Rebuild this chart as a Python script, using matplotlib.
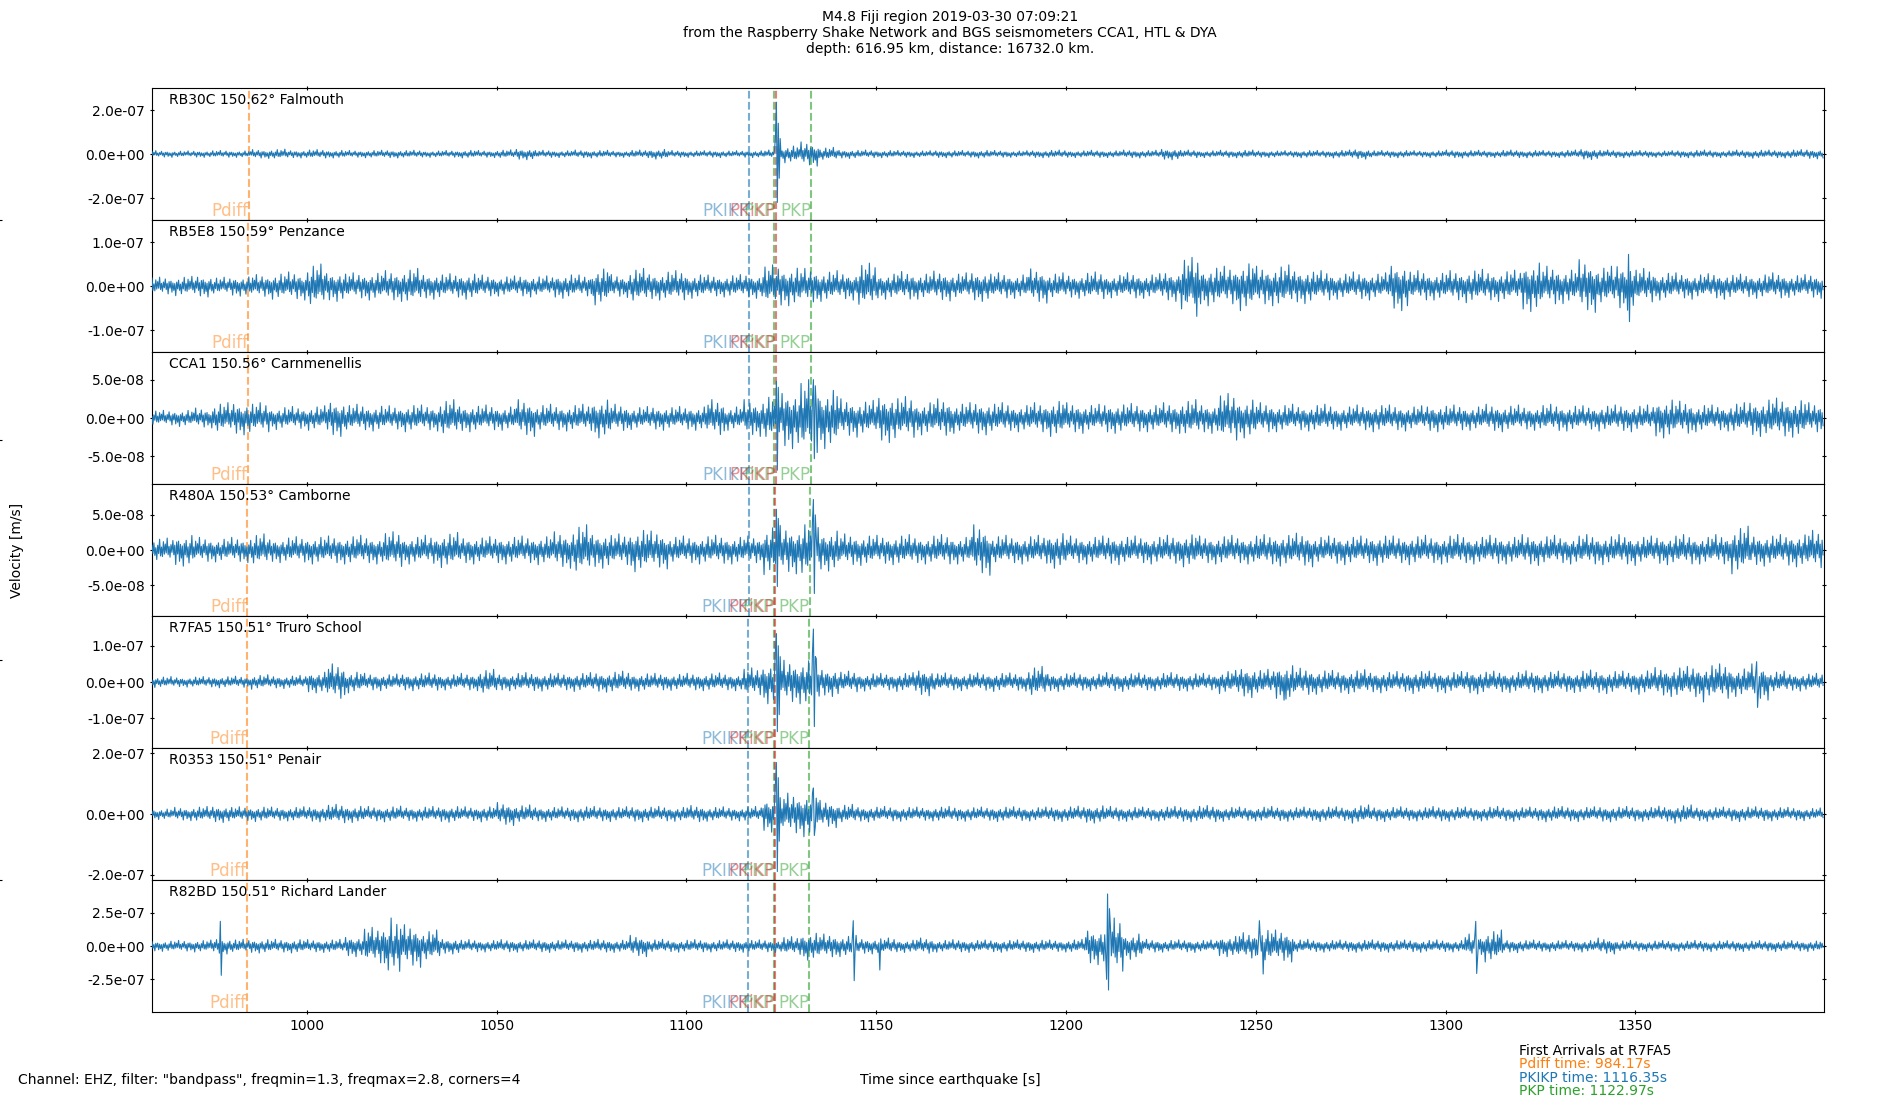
import matplotlib
matplotlib.use('Agg')

import matplotlib.pyplot as plt
import numpy as np
from matplotlib.ticker import FormatStrFormatter


# stations, top to bottom
STATIONS = ['RB30C', 'RB5E8', 'CCA1', 'R480A', 'R7FA5', 'R0353', 'R82BD']
DISTANCES = [150.62, 150.59, 150.56, 150.53, 150.51, 150.51, 150.51]
PLACES = ['Falmouth', 'Penzance', 'Carnmenellis', 'Camborne',
          'Truro School', 'Penair', 'Richard Lander']

# phase arrivals [s] for each station
PHASES = ['Pdiff', 'PKIKP', 'PKP', 'PKiKP', 'PKP']
PHASE_COLOURS = ['C1', 'C0', 'C2', 'C3', 'C2']
ARRIVALS = [
    [984.65, 1116.56, 1123.20, 1123.60, 1132.9],
    [984.52, 1116.50, 1123.15, 1123.55, 1132.8],
    [984.39, 1116.45, 1123.10, 1123.50, 1132.7],
    [984.26, 1116.39, 1123.00, 1123.40, 1132.5],
    [984.17, 1116.35, 1122.97, 1123.35, 1132.4],
    [984.17, 1116.35, 1122.97, 1123.35, 1132.4],
    [984.17, 1116.35, 1122.97, 1123.35, 1132.4],
]

# y range (+/-) and tick step per station [m/s]
YLIMS = [3.0e-7, 1.5e-7, 8.6e-8, 9.4e-8, 1.82e-7, 2.18e-7, 4.95e-7]
YSTEPS = [2e-7, 1e-7, 5e-8, 5e-8, 1e-7, 2e-7, 2.5e-7]

XLIM = (959.2, 1399.7)
XTICKS = [1000, 1050, 1100, 1150, 1200, 1250, 1300, 1350]

# peak amplitude in 5 s windows from 960 s, units of 1e-8 m/s
ENV_START = 960.0
ENV_STEP = 5.0
ENV = {
    'RB30C': [1.5, 1.4, 1.5, 1.6, 1.5, 2.0, 2.2, 1.8, 2.0, 1.8,
              1.6, 1.7, 1.8, 1.7, 1.5, 1.6, 1.8, 1.6, 1.9, 2.6,
              1.7, 1.6, 1.8, 1.7, 1.5, 1.8, 2.3, 1.6, 1.5, 1.6,
              1.5, 1.6, 1.8, 4.0, 5.5, 3.0, 2.0, 1.8, 1.7, 1.6,
              1.5, 1.7, 1.6, 1.8, 1.6, 1.5, 1.7, 1.8, 1.6, 1.7,
              1.6, 1.8, 1.7, 2.6, 1.8, 1.6, 1.7, 1.8, 1.6, 1.5,
              1.7, 1.6, 1.8, 2.3, 1.6, 1.7, 1.5, 1.6, 1.8, 1.7,
              1.6, 1.8, 1.7, 1.6, 1.8, 2.5, 1.8, 1.7, 1.6, 1.5,
              1.7, 1.8, 1.6, 1.8, 1.9, 1.8, 2.0, 2.2],
    'RB5E8': [2.0, 2.2, 2.5, 2.0, 2.3, 2.6, 3.0, 3.2, 5.0, 3.5,
              3.0, 3.2, 3.5, 4.0, 3.0, 2.8, 3.0, 2.5, 2.3, 2.5,
              2.3, 2.8, 2.5, 4.3, 2.6, 4.0, 3.2, 3.5, 2.8, 2.5,
              2.6, 2.8, 4.8, 4.5, 4.0, 3.5, 3.2, 5.2, 3.0, 3.3,
              3.0, 3.4, 3.0, 3.5, 3.0, 2.8, 3.9, 3.0, 2.8, 3.2,
              2.7, 3.0, 2.8, 3.5, 6.5, 4.5, 4.5, 5.6, 4.5, 4.8,
              4.0, 3.5, 3.0, 3.2, 3.0, 5.6, 3.5, 3.2, 3.5, 3.8,
              3.5, 3.6, 5.8, 4.5, 4.0, 6.0, 4.5, 5.5, 4.0, 3.2,
              3.0, 2.8, 3.0, 2.7, 2.8, 3.0, 2.6, 2.8],
    'CCA1': [1.0, 1.1, 1.3, 2.0, 2.2, 2.0, 1.5, 1.5, 1.6, 2.4,
             1.8, 1.7, 1.6, 1.8, 1.7, 2.4, 1.8, 1.7, 1.6, 2.4,
             1.8, 1.7, 1.8, 2.6, 1.8, 1.5, 1.6, 1.5, 1.6, 2.4,
             1.6, 2.4, 3.0, 4.0, 5.0, 4.0, 2.5, 2.3, 3.2, 2.8,
             2.2, 2.5, 2.0, 2.2, 2.0, 1.8, 2.0, 2.4, 2.0, 1.8,
             2.0, 1.9, 1.8, 2.0, 2.4, 2.0, 3.2, 2.6, 2.0, 1.8,
             1.7, 1.8, 1.6, 1.7, 1.8, 1.7, 1.6, 1.8, 1.7, 1.6,
             1.8, 1.7, 1.6, 1.8, 1.7, 1.6, 1.7, 1.8, 1.7, 2.6,
             2.2, 1.8, 1.7, 2.0, 2.4, 2.6, 2.5, 2.0],
    'R480A': [1.7, 2.3, 1.8, 1.7, 1.8, 2.3, 1.8, 1.9, 2.0, 2.0,
              2.1, 2.0, 2.6, 2.0, 2.1, 2.5, 2.0, 1.9, 2.0, 2.0,
              2.1, 2.6, 3.6, 2.6, 2.3, 3.1, 2.7, 2.0, 2.0, 2.1,
              2.0, 2.0, 3.5, 3.4, 4.0, 3.0, 2.3, 2.2, 2.1, 2.2,
              2.0, 2.2, 2.0, 3.6, 2.1, 2.0, 2.1, 2.6, 2.0, 2.0,
              2.1, 2.0, 2.0, 2.1, 2.4, 2.0, 2.1, 2.0, 2.2, 2.3,
              2.4, 2.0, 2.1, 2.0, 2.2, 2.0, 2.1, 2.0, 2.2, 2.0,
              2.1, 2.0, 2.2, 2.1, 2.0, 2.2, 2.1, 2.2, 2.0, 2.1,
              2.2, 2.0, 2.2, 3.4, 2.3, 2.2, 2.4, 2.8],
    'R7FA5': [1.5, 1.4, 1.5, 1.6, 1.6, 2.0, 1.8, 1.8, 3.0, 5.0,
              3.0, 2.4, 2.2, 2.4, 2.5, 2.2, 2.4, 3.5, 2.4, 2.6,
              2.5, 2.4, 2.6, 2.8, 3.0, 2.5, 2.4, 2.3, 2.4, 2.5,
              2.4, 3.9, 6.0, 6.0, 6.5, 4.0, 3.0, 2.5, 2.4, 2.6,
              3.8, 2.5, 2.4, 2.5, 2.6, 2.5, 4.3, 2.6, 2.5, 2.4,
              2.6, 2.5, 2.4, 2.6, 2.5, 2.4, 3.2, 4.3, 3.5, 5.0,
              3.8, 3.4, 3.2, 3.4, 3.0, 2.9, 3.2, 3.0, 2.9, 3.3,
              3.0, 2.9, 3.1, 3.0, 2.9, 3.3, 3.2, 3.0, 3.4, 4.0,
              4.3, 4.5, 5.0, 4.0, 5.0, 3.0, 2.5, 2.4],
    'R0353': [1.8, 2.2, 2.5, 2.8, 2.4, 2.5, 2.3, 2.4, 2.6, 3.2,
              2.8, 2.5, 2.6, 2.4, 2.5, 2.7, 2.4, 2.6, 3.8, 3.0,
              2.5, 2.4, 2.6, 2.5, 2.4, 2.6, 2.5, 2.4, 2.8, 2.4,
              2.3, 2.5, 6.0, 6.9, 7.5, 4.5, 3.2, 2.6, 2.5, 2.4,
              2.3, 2.5, 2.4, 2.3, 2.5, 2.4, 2.3, 2.5, 2.6, 3.0,
              2.5, 2.4, 2.3, 2.5, 2.6, 2.8, 2.4, 2.3, 2.5, 2.4,
              2.3, 2.5, 2.4, 3.0, 2.5, 2.4, 2.3, 2.5, 2.4, 2.3,
              2.5, 2.4, 2.3, 2.6, 2.5, 2.4, 2.6, 2.5, 2.4, 2.6,
              3.0, 2.4, 2.3, 2.5, 2.4, 2.3, 2.2, 2.0],
    'R82BD': [4.0, 4.2, 4.5, 6.0, 5.0, 5.3, 5.0, 5.2, 4.8, 5.0,
              8.0, 14, 18, 16, 12, 6.0, 4.8, 4.5, 4.8, 4.6,
              4.8, 4.5, 4.7, 5.0, 4.8, 8.0, 5.0, 4.6, 4.8, 4.5,
              4.7, 4.6, 4.8, 7.0, 10.6, 9.0, 8.0, 6.0, 6.0, 4.8,
              6.0, 4.6, 4.8, 4.5, 4.7, 4.6, 4.8, 4.5, 5.0, 14,
              21, 10, 5.0, 4.6, 4.8, 4.5, 8.0, 10, 13, 12,
              5.0, 4.6, 4.5, 4.7, 4.6, 4.5, 4.7, 4.6, 4.5, 9.0,
              12, 5.0, 4.5, 4.3, 4.2, 4.5, 6.0, 4.2, 4.0, 4.1,
              4.0, 4.2, 4.0, 4.1, 4.0, 4.2, 4.0, 4.1],
}

# single large swings (time [s], value [1e-8 m/s])
PEAK_T = {
    'RB30C': [1123.45, 1123.7, 1123.95, 1124.2, 1124.45, 1124.7],
    'RB5E8': [1234.45, 1348.2, 1348.45],
    'CCA1': [1123.7, 1123.95, 1124.2, 1133.45, 1133.7, 1133.95],
    'R480A': [1123.7, 1123.95, 1124.2, 1133.45, 1133.7, 1133.95],
    'R7FA5': [1123.45, 1123.7, 1123.95, 1124.2, 1124.45, 1124.7,
              1133.2, 1133.45, 1133.7, 1133.95,
              1257.95, 1367.95, 1381.95, 1382.2],
    'R0353': [1123.45, 1123.7, 1123.95, 1124.2, 1124.45, 1133.45, 1133.7],
    'R82BD': [977.2, 977.45, 1022.2, 1024.45, 1143.95, 1144.2, 1150.95,
              1210.7, 1210.95, 1211.2, 1211.45, 1250.95, 1251.95,
              1307.95, 1308.2],
}
PEAK_V = {
    'RB30C': [8.0, 23.5, -22.0, 14.0, -11.0, 7.0],
    'RB5E8': [-6.9, 7.2, -8.1],
    'CCA1': [4.8, -6.8, 4.0, 5.0, -5.3, 4.2],
    'R480A': [5.8, -5.2, 4.5, 7.2, -6.2, 5.0],
    'R7FA5': [9.0, 13.3, -13.7, 10.0, -9.0, 7.0,
              8.0, 14.6, -12.3, 7.0,
              -4.7, -5.5, 5.6, -7.0],
    'R0353': [10.0, 17.0, -19.0, 12.0, -9.0, 8.6, -7.1],
    'R82BD': [18.5, -22.0, 21.0, -19.0, 19.0, -26.0, -18.0,
              -25.0, 39.0, -33.0, 28.0, 19.0, -21.0,
              18.5, -20.6],
}

# fixed wiggle shape used to draw the oscillation inside each envelope
WIGGLE = [0.7, 0.35, 0.5, 0.25, 1.0, 0.4, 0.3, 0.6, 0.45, 0.2,
          0.8, 0.4, 0.3, 0.9, 0.5, 0.25, 0.55]
DT = 0.25

TITLE = ('M4.8 Fiji region 2019-03-30 07:09:21\n'
         'from the Raspberry Shake Network and BGS seismometers CCA1, HTL & DYA\n'
         'depth: 616.95 km, distance: 16732.0 km.')
FILTER_NOTE = 'Channel: EHZ, filter: "bandpass", freqmin=1.3, freqmax=2.8, corners=4'
FIRST_STATION = 'R7FA5'
FIRST_PHASES = ['Pdiff', 'PKIKP', 'PKP']
FIRST_TIMES = [984.17, 1116.35, 1122.97]
FIRST_COLOURS = ['C1', 'C0', 'C2']


def make_trace(sta, k):
    t = np.arange(XLIM[0], XLIM[1], DT)
    env = np.asarray(ENV[sta])
    idx = np.clip(((t - ENV_START) // ENV_STEP).astype(int), 0, len(env) - 1)
    w = np.tile(WIGGLE, len(t) // len(WIGGLE) + 2)
    w = np.roll(w, 4 * k)[:len(t)]
    sign = np.where(np.arange(len(t)) % 2 == 0, 1.0, -1.0)
    y = sign * env[idx] * w
    for pt, pv in zip(PEAK_T[sta], PEAK_V[sta]):
        y[np.argmin(np.abs(t - pt))] = pv
    return t, y * 1e-8


def main():
    fig, axes = plt.subplots(len(STATIONS), 1, sharex=True, figsize=(19, 11))
    fig.subplots_adjust(left=0.08, right=0.96, top=0.92, bottom=0.08, hspace=0)

    bg = fig.add_axes([0, 0, 1, 1], frameon=False, zorder=-1)
    bg.set_xticks([])
    bg.set_yticks([0.2, 0.4, 0.6, 0.8])
    bg.set_yticklabels([])
    bg.tick_params(direction='inout')

    for k, (ax, sta) in enumerate(zip(axes, STATIONS)):
        t, y = make_trace(sta, k)
        ylim = YLIMS[k]
        for name, c, ta in zip(PHASES, PHASE_COLOURS, ARRIVALS[k]):
            ax.axvline(ta, color=c, ls='--', lw=1.5, alpha=0.6, zorder=2)
            ax.text(ta, -ylim, name, color=c, alpha=0.5, fontsize=12,
                    ha='right', va='bottom')
        ax.plot(t, y, color='C0', lw=0.8, zorder=3)
        ax.set_ylim(-ylim, ylim)
        step = YSTEPS[k]
        ax.set_yticks([-step, 0, step])
        ax.yaxis.set_major_formatter(FormatStrFormatter('%.1e'))
        ax.tick_params(direction='inout', top=True, right=True)
        ax.text(0.01, 0.96, '%s %.2f° %s' % (sta, DISTANCES[k], PLACES[k]),
                transform=ax.transAxes, va='top', ha='left')

    axes[-1].set_xlim(*XLIM)
    axes[-1].set_xticks(XTICKS)

    fig.text(0.5, 0.991, TITLE, ha='center', va='top')
    fig.text(0.009, 0.5, 'Velocity [m/s]', rotation=90, ha='center', va='center')
    fig.text(0.5, 0.018, 'Time since earthquake [s]', ha='center', va='center')
    fig.text(0.0095, 0.018, FILTER_NOTE, ha='left', va='center')

    y0 = 0.0445
    fig.text(0.7995, y0, 'First Arrivals at %s' % FIRST_STATION, va='center')
    for i, (name, ta, c) in enumerate(zip(FIRST_PHASES, FIRST_TIMES, FIRST_COLOURS)):
        fig.text(0.7995, y0 - 0.0122 * (i + 1), '%s time: %.2fs' % (name, ta),
                 color=c, va='center')

    fig.savefig('out.png', dpi=100)


if __name__ == '__main__':
    main()
